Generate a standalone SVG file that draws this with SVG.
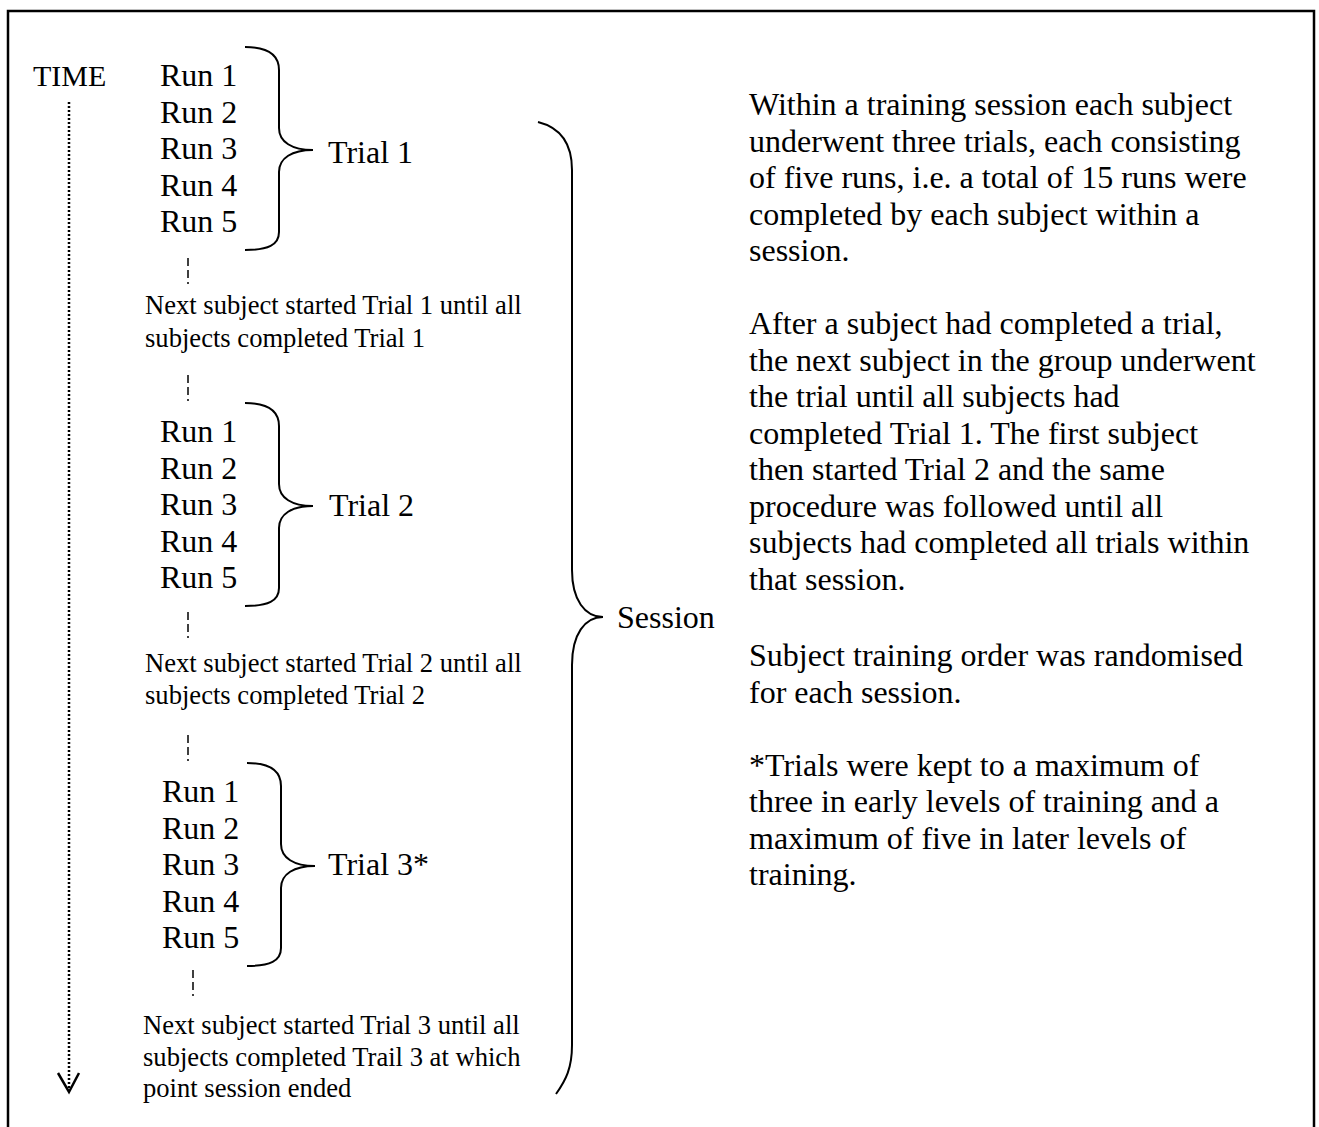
<svg xmlns="http://www.w3.org/2000/svg" width="1319" height="1127" viewBox="0 0 1319 1127">
<style>
text{font-family:"Liberation Serif","Times New Roman",serif;fill:#000}
.big{font-size:32px}
.sm{font-size:26.6px}
.brace{fill:none;stroke:#000;stroke-width:2}
.dash{fill:none;stroke:#000;stroke-width:1.5;stroke-dasharray:8 4}
</style>
<rect x="8" y="11" width="1306" height="1140" fill="#fff" stroke="#000" stroke-width="2.5"/>
<g id="connectors">
<line x1="69" y1="102" x2="69" y2="1090" stroke="#000" stroke-width="2.5" stroke-dasharray="2 2"/>
<polyline points="58,1073 69,1092 79,1073" fill="none" stroke="#000" stroke-width="2.5"/>
<line class="dash" x1="188" y1="258" x2="188" y2="284"/>
<line class="dash" x1="188" y1="375" x2="188" y2="401"/>
<line class="dash" x1="188" y1="612" x2="188" y2="638"/>
<line class="dash" x1="188" y1="735" x2="188" y2="761"/>
<line class="dash" x1="193" y1="970" x2="193" y2="996"/>
</g>
<g id="time"><text class="big" x="33" y="86" style="font-size:30px">TIME</text></g>
<g id="trial1">
<text class="big" x="160" y="86">Run 1</text>
<text class="big" x="160" y="122.5">Run 2</text>
<text class="big" x="160" y="159">Run 3</text>
<text class="big" x="160" y="195.5">Run 4</text>
<text class="big" x="160" y="232">Run 5</text>
<path class="brace" d="M245,47 C268,47 279,55 279,70 L279,128 C279,142 292,150 313,150 C292,150 279,158 279,172 L279,232 C279,245 268,250 245,250"/>
<text class="big" x="328" y="163">Trial 1</text>
</g>
<g id="note1">
<text class="sm" x="145" y="314">Next subject started Trial 1 until all</text>
<text class="sm" x="145" y="347">subjects completed Trial 1</text>
</g>
<g id="trial2" transform="translate(0,356)">
<text class="big" x="160" y="86">Run 1</text>
<text class="big" x="160" y="122.5">Run 2</text>
<text class="big" x="160" y="159">Run 3</text>
<text class="big" x="160" y="195.5">Run 4</text>
<text class="big" x="160" y="232">Run 5</text>
<path class="brace" d="M245,47 C268,47 279,55 279,70 L279,128 C279,142 292,150 313,150 C292,150 279,158 279,172 L279,232 C279,245 268,250 245,250"/>
<text class="big" x="329" y="160">Trial 2</text>
</g>
<g id="note2">
<text class="sm" x="145" y="672">Next subject started Trial 2 until all</text>
<text class="sm" x="145" y="704">subjects completed Trial 2</text>
</g>
<g id="trial3" transform="translate(2,716)">
<text class="big" x="160" y="86">Run 1</text>
<text class="big" x="160" y="122.5">Run 2</text>
<text class="big" x="160" y="159">Run 3</text>
<text class="big" x="160" y="195.5">Run 4</text>
<text class="big" x="160" y="232">Run 5</text>
<path class="brace" d="M245,47 C268,47 279,55 279,70 L279,128 C279,142 292,150 313,150 C292,150 279,158 279,172 L279,232 C279,245 268,250 245,250"/>
<text class="big" x="326" y="159">Trial 3*</text>
</g>
<g id="note3">
<text class="sm" x="143" y="1034">Next subject started Trial 3 until all</text>
<text class="sm" x="143" y="1066">subjects completed Trail 3 at which</text>
<text class="sm" x="143" y="1097">point session ended</text>
</g>
<g id="session">
<path class="brace" d="M538,122 C562,128 572,145 572,170 L572,570 C572,600 585,617 603,617 C585,617 572,634 572,665 L572,1045 C572,1068 566,1080 556,1094"/>
<text class="big" x="617" y="628">Session</text>
</g>
<g id="description">
<text class="big" x="749" y="115">Within a training session each subject</text>
<text class="big" x="749" y="151.5">underwent three trials, each consisting</text>
<text class="big" x="749" y="188">of five runs, i.e. a total of 15 runs were</text>
<text class="big" x="749" y="224.5">completed by each subject within a</text>
<text class="big" x="749" y="261">session.</text>
<text class="big" x="749" y="334">After a subject had completed a trial,</text>
<text class="big" x="749" y="370.5">the next subject in the group underwent</text>
<text class="big" x="749" y="407">the trial until all subjects had</text>
<text class="big" x="749" y="443.5">completed Trial 1. The first subject</text>
<text class="big" x="749" y="480">then started Trial 2 and the same</text>
<text class="big" x="749" y="516.5">procedure was followed until all</text>
<text class="big" x="749" y="553">subjects had completed all trials within</text>
<text class="big" x="749" y="589.5">that session.</text>
<text class="big" x="749" y="666">Subject training order was randomised</text>
<text class="big" x="749" y="702.5">for each session.</text>
<text class="big" x="749" y="775.5">*Trials were kept to a maximum of</text>
<text class="big" x="749" y="812">three in early levels of training and a</text>
<text class="big" x="749" y="848.5">maximum of five in later levels of</text>
<text class="big" x="749" y="885">training.</text>
</g>
</svg>
